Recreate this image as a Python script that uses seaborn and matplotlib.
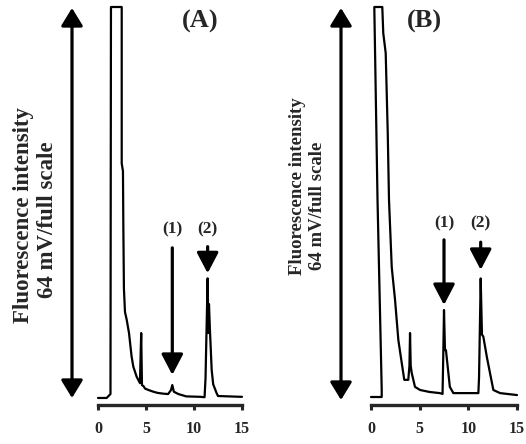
import numpy as np
import pandas as pd
import seaborn as sns
import matplotlib.pyplot as plt
from matplotlib.patches import FancyArrowPatch

# chromatogram traces (time in min, signal in % of full scale)
time_a = [0, 0.9, 1.1, 1.3, 1.35, 2.47, 2.47, 2.6, 2.64, 2.7, 2.81, 2.99, 3.23, 3.5,
          3.68, 4.03, 4.37, 4.45, 4.5, 4.58, 4.75, 4.9, 5.3, 5.76, 6.2, 6.8, 7.3, 7.6,
          7.74, 7.9, 8.37, 9.2, 10.6, 11.1, 11.2, 11.42, 11.5, 11.56, 11.65, 11.84,
          12.0, 12.36, 12.5, 14.8, 15]
signal_a = [0, 0, 0.5, 1.0, 100, 100, 60, 58, 43.8, 28, 22, 20, 16.6, 10.6,
            8, 5.4, 3.8, 12, 16.6, 3.3, 3.0, 2.4, 2.0, 1.6, 1.3, 1.1, 1.0, 2.0,
            3.3, 1.6, 1.0, 0.4, 0.3, 0.2, 5, 30.6, 16.6, 24, 18, 7.2,
            3.5, 1.2, 0.5, 0.3, 0.3]

time_b = [0, 1.1, 1.1, 0.67, 0.34, 1.16, 1.26, 1.51, 1.72, 1.85, 2.13, 2.47, 2.81,
          3.16, 3.42, 3.83, 3.95, 4.01, 4.08, 4.18, 4.52, 5.04, 6.0, 7.06, 7.35, 7.42,
          7.5, 7.6, 7.7, 8.1, 8.46, 11.03, 11.1, 11.27, 11.4, 11.54, 11.9, 12.23,
          12.57, 13.26, 15]
signal_b = [0, 0, 2, 50.5, 100, 100, 93.3, 88.2, 67.7, 50.5, 33.3, 24.9, 14.6,
            8.7, 4.4, 4.4, 8, 16.4, 8, 6.2, 2.6, 1.8, 1.3, 1.0, 0.8, 10,
            22.3, 12, 12, 2.6, 1.0, 1.0, 5, 30.4, 16, 15.5, 10.3, 6.1,
            1.8, 1.0, 0.5]

peak_labels = ['(1)', '(2)']
peaks_a = [7.74, 11.42]
peaks_b = [7.5, 11.27]
xticks = [0, 5, 10, 15]
ylabel_1 = 'Fluorescence intensity'
ylabel_2 = '64 mV/full scale'

sns.set_style('ticks')
plt.rcParams['font.family'] = ['Liberation Serif', 'DejaVu Serif']
plt.rcParams['font.weight'] = 'bold'

W, H = 526, 444
fig = plt.figure(figsize=(W / 100, H / 100), dpi=100)


def make_axes(left, right, bottom, top):
    return fig.add_axes([left / W, 1 - bottom / H, (right - left) / W, (bottom - top) / H])


ax_a = make_axes(98, 242, 405, 7)
ax_b = make_axes(371, 517, 405, 7)

panels = [
    (ax_a, time_a, signal_a, -1.8, peaks_a, [(38.4, 5.9), (38.7, 31.9)], 43),
    (ax_b, time_b, signal_b, -2.05, peaks_b, [(40.3, 23.6), (39.7, 32.6)], 44.4),
]

for ax, t, s, ymin, peaks, arrows, label_y in panels:
    df = pd.DataFrame({'time': t, 'signal': s})
    sns.lineplot(data=df, x='time', y='signal', sort=False, estimator=None,
                 color='black', lw=1.6, ax=ax)
    for line in ax.get_lines():
        line.set_clip_on(False)
    ax.set_xlim(0, 15)
    ax.set_ylim(ymin, 100)
    ax.set_xticks(xticks)
    ax.set_xticklabels([str(v) for v in xticks], fontsize=11.5, fontweight='bold')
    ax.set_yticks([])
    ax.set_xlabel('')
    ax.set_ylabel('')
    sns.despine(ax=ax, left=True)
    ax.spines['bottom'].set_linewidth(2.4)
    ax.tick_params(axis='x', direction='out', length=3.5, width=2.2, pad=8)
    for x, (y0, y1), lab in zip(peaks, arrows, peak_labels):
        ax.annotate('', xy=(x, y1), xytext=(x, y0),
                    arrowprops=dict(arrowstyle='-|>,head_length=1.05,head_width=0.55',
                                    mutation_scale=12, lw=2.3, color='black',
                                    shrinkA=0, shrinkB=0))
        ax.text(x, label_y, lab, ha='center', va='center', fontsize=12.5,
                fontweight='bold')

# full-scale double arrows
for x, y_bot in [(72, 398), (341, 400)]:
    fig.patches.append(FancyArrowPatch(
        (x, H - y_bot), (x, H - 8), transform=None,
        arrowstyle='<|-|>,head_length=0.9,head_width=0.55', mutation_scale=12,
        lw=2.3, color='black', shrinkA=0, shrinkB=0))

# rotated y labels
fig.text(24 / W, 1 - 215 / H, ylabel_1, rotation=90, ha='center', va='center',
         fontsize=16.5, fontweight='bold')
fig.text(48 / W, 1 - 220 / H, ylabel_2, rotation=90, ha='center', va='center',
         fontsize=16.5, fontweight='bold')
fig.text(298 / W, 1 - 186 / H, ylabel_1, rotation=90, ha='center', va='center',
         fontsize=13.5, fontweight='bold')
fig.text(318 / W, 1 - 206 / H, ylabel_2, rotation=90, ha='center', va='center',
         fontsize=13.5, fontweight='bold')

fig.text(200 / W, 1 - 21 / H, '(A)', ha='center', va='center', fontsize=19,
         fontweight='bold')
fig.text(424 / W, 1 - 21 / H, '(B)', ha='center', va='center', fontsize=19,
         fontweight='bold')

fig.savefig('out.png', dpi=100)
